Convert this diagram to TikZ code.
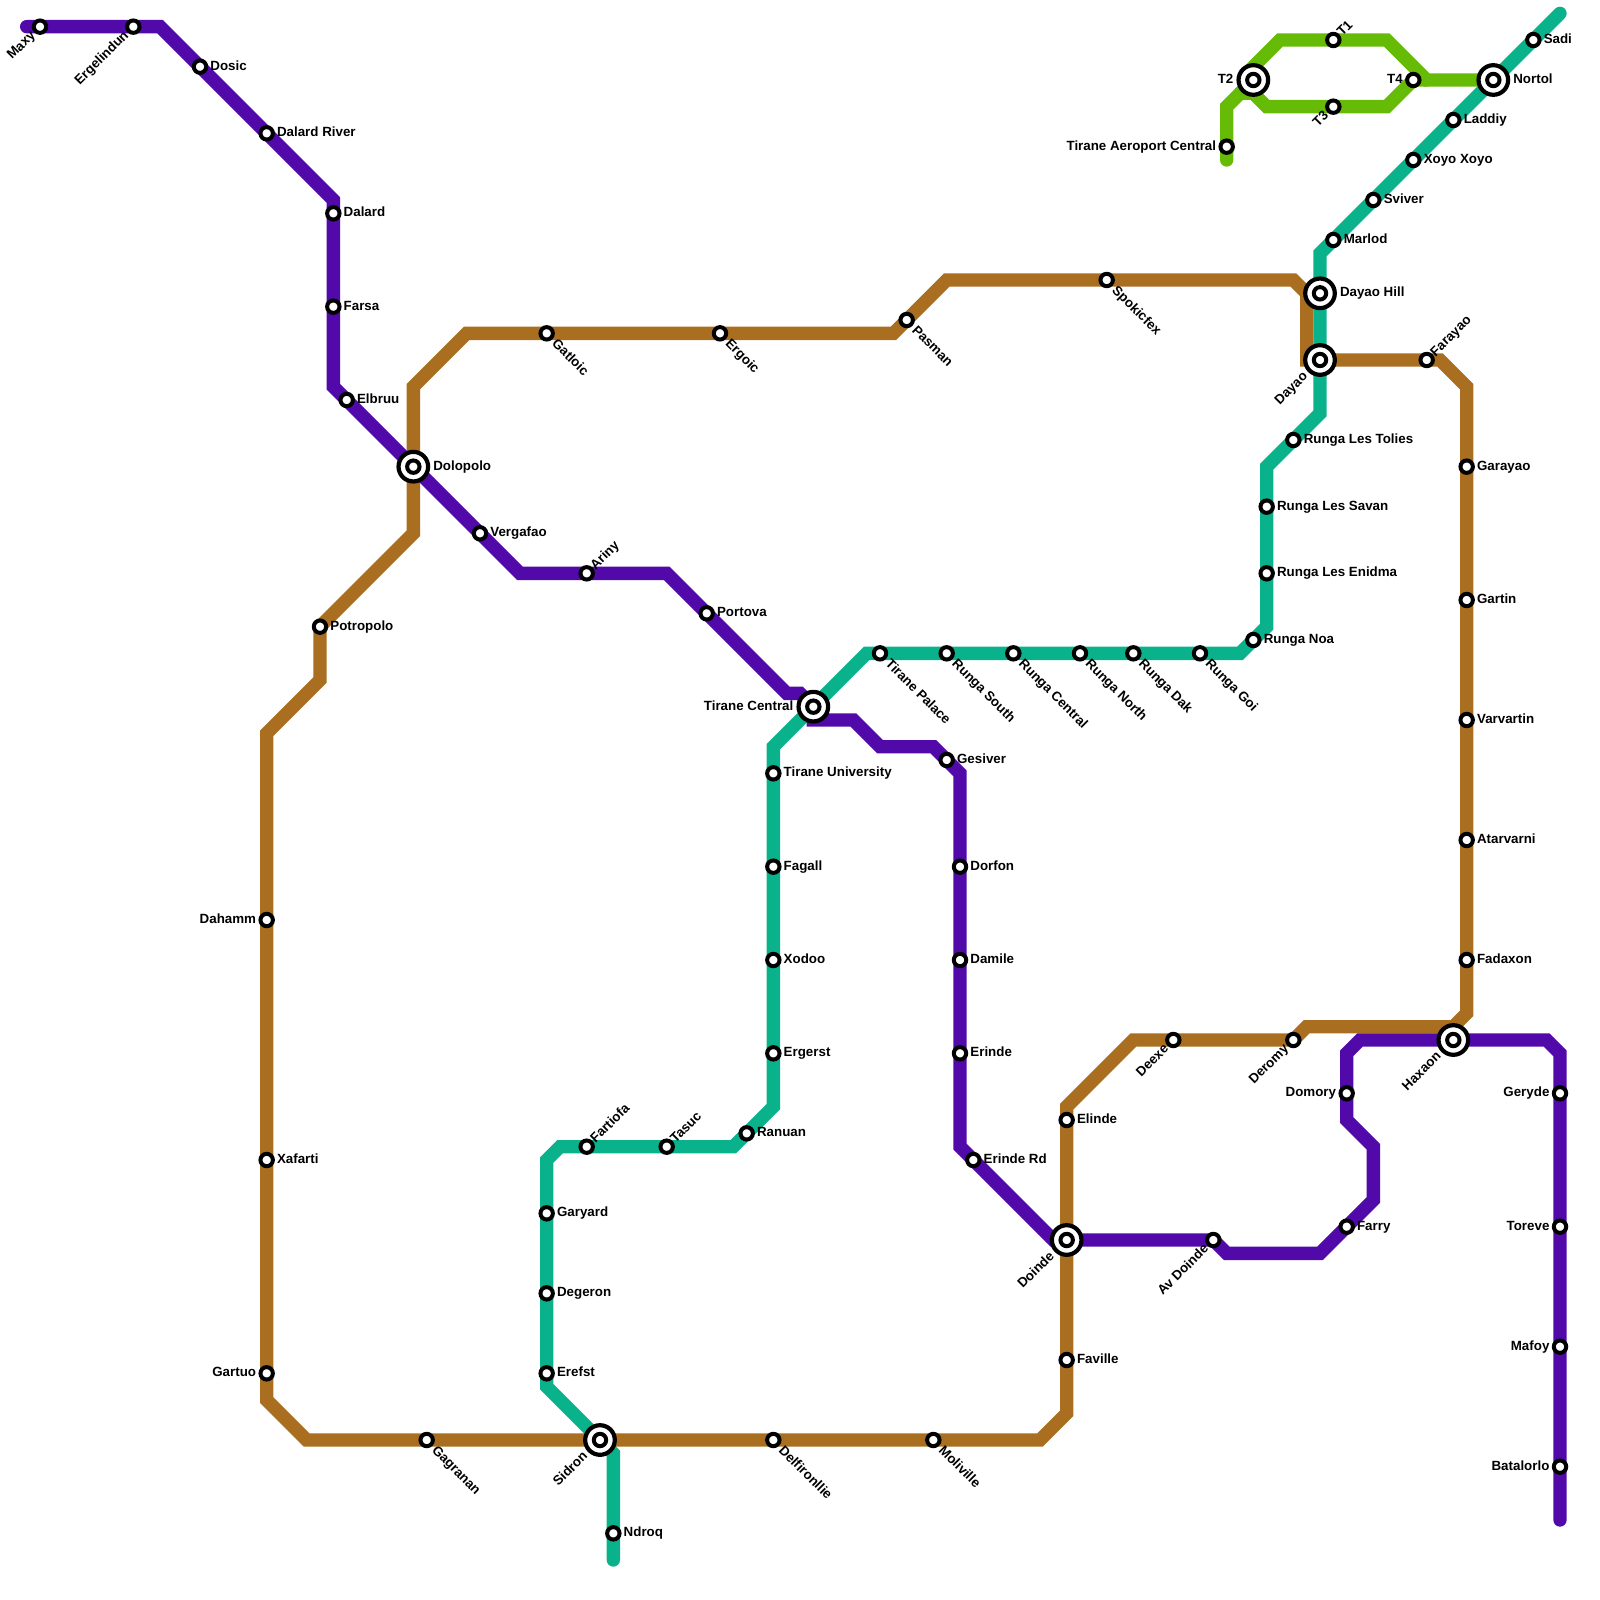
\documentclass[tikz,border=0pt]{standalone}
\usepackage{fontspec}
\setmainfont{Liberation Sans}
\usetikzlibrary{backgrounds}
\definecolor{mpurple}{RGB}{82,9,170}
\definecolor{mbrown}{RGB}{169,110,31}
\definecolor{mteal}{RGB}{10,178,140}
\definecolor{mgreen}{RGB}{102,187,6}
\tikzset{
  metro/.style={line width=6.667pt,line cap=round,line join=miter,miter limit=10},
  stn/.style={circle,draw=black,fill=white,line width=2pt,minimum size=6.2pt,inner sep=0pt,outer sep=0pt},
  hub/.style={circle,draw=black,fill=white,line width=2.1pt,minimum size=14.8pt,inner sep=0pt,outer sep=0pt},
  txt/.style={inner sep=0pt,outer sep=0pt,font=\fontsize{6.67pt}{8pt}\selectfont\bfseries,text=black}
}
% small stations: R right, L left, DR down-right, UR up-right, DL down-left
\newcommand\StR[4]{\node[stn] (#1) at (#2,#3) {};\node[txt,anchor=base west] (#1-t) at ([shift={(5.2pt,-1.8pt)}]#1.center) {#4};}
\newcommand\StL[4]{\node[stn] (#1) at (#2,#3) {};\node[txt,anchor=base east] (#1-t) at ([shift={(-5.3pt,-1.8pt)}]#1.center) {#4};}
\newcommand\StDR[4]{\node[stn] (#1) at (#2,#3) {};\node[txt,anchor=base west,rotate=-45] (#1-t) at ([shift={(2.4pt,-5.6pt)}]#1.center) {#4};}
\newcommand\StUR[4]{\node[stn] (#1) at (#2,#3) {};\node[txt,anchor=base west,rotate=45] (#1-t) at ([shift={(4.5pt,1.5pt)}]#1.center) {#4};}
\newcommand\StDL[4]{\node[stn] (#1) at (#2,#3) {};\node[txt,anchor=base east,rotate=45] (#1-t) at ([shift={(-2.1pt,-4.8pt)}]#1.center) {#4};}
% interchanges
\newcommand\HuR[4]{\node[hub] (#1-o) at (#2,#3) {};\node[stn] (#1) at (#2,#3) {};\node[txt,anchor=base west] (#1-t) at ([shift={(10pt,-1.8pt)}]#1.center) {#4};}
\newcommand\HuL[4]{\node[hub] (#1-o) at (#2,#3) {};\node[stn] (#1) at (#2,#3) {};\node[txt,anchor=base east] (#1-t) at ([shift={(-10pt,-1.8pt)}]#1.center) {#4};}
\newcommand\HuDL[4]{\node[hub] (#1-o) at (#2,#3) {};\node[stn] (#1) at (#2,#3) {};\node[txt,anchor=base east,rotate=45] (#1-t) at ([shift={(-5.9pt,-8.5pt)}]#1.center) {#4};}
\begin{document}
\begin{tikzpicture}[x=6.66667pt,y=-6.66667pt]
\useasboundingbox (0,0) rectangle (120,120);
% purple
\StDL{maxy}{3}{2}{Maxy}
\StDL{ergelindun}{10}{2}{Ergelindun}
\StR{dosic}{15}{5}{Dosic}
\StR{dalardriver}{20}{10}{Dalard River}
\StR{dalard}{25}{16}{Dalard}
\StR{farsa}{25}{23}{Farsa}
\StR{elbruu}{26}{30}{Elbruu}
\HuR{dolopolo}{31}{35}{Dolopolo}
\StR{vergafao}{36}{40}{Vergafao}
\StUR{ariny}{44}{43}{Ariny}
\StR{portova}{53}{46}{Portova}
\HuL{tiranecentral}{61}{53}{Tirane Central}
\StR{gesiver}{71}{57}{Gesiver}
\StR{dorfon}{72}{65}{Dorfon}
\StR{damile}{72}{72}{Damile}
\StR{erinde}{72}{79}{Erinde}
\StR{erinderd}{73}{87}{Erinde Rd}
\HuDL{doinde}{80}{93}{Doinde}
\StDL{avdoinde}{91}{93}{Av Doinde}
\StR{farry}{101}{92}{Farry}
\StL{domory}{101}{82}{Domory}
\HuDL{haxaon}{109}{78}{Haxaon}
\StL{geryde}{117}{82}{Geryde}
\StL{toreve}{117}{92}{Toreve}
\StL{mafoy}{117}{101}{Mafoy}
\StL{batalorlo}{117}{110}{Batalorlo}
% teal
\StR{ndroq}{46}{115}{Ndroq}
\HuDL{sidron}{45}{108}{Sidron}
\StR{erefst}{41}{103}{Erefst}
\StR{degeron}{41}{97}{Degeron}
\StR{garyard}{41}{91}{Garyard}
\StUR{fartiofa}{44}{86}{Fartiofa}
\StUR{tasuc}{50}{86}{Tasuc}
\StR{ranuan}{56}{85}{Ranuan}
\StR{ergerst}{58}{79}{Ergerst}
\StR{xodoo}{58}{72}{Xodoo}
\StR{fagall}{58}{65}{Fagall}
\StR{tiraneuniv}{58}{58}{Tirane University}
\StDR{tiranepalace}{66}{49}{Tirane Palace}
\StDR{rungasouth}{71}{49}{Runga South}
\StDR{rungacentral}{76}{49}{Runga Central}
\StDR{runganorth}{81}{49}{Runga North}
\StDR{rungadak}{85}{49}{Runga Dak}
\StDR{rungagoi}{90}{49}{Runga Goi}
\StR{runganoa}{94}{48}{Runga Noa}
\StR{rungaenidma}{95}{43}{Runga Les Enidma}
\StR{rungasavan}{95}{38}{Runga Les Savan}
\StR{rungatolies}{97}{33}{Runga Les Tolies}
\HuDL{dayao}{99}{27}{Dayao}
\HuR{dayaohill}{99}{22}{Dayao Hill}
\StR{marlod}{100}{18}{Marlod}
\StR{sviver}{103}{15}{Sviver}
\StR{xoyo}{106}{12}{Xoyo Xoyo}
\StR{laddiy}{109}{9}{Laddiy}
\HuR{nortol}{112}{6}{Nortol}
\StR{sadi}{115}{3}{Sadi}
% green
\StL{aeroport}{92}{11}{Tirane Aeroport Central}
\HuL{ttwo}{94}{6}{T2}
\StUR{tone}{100}{3}{T1}
\StDL{tthree}{100}{8}{T3}
\StL{tfour}{106}{6}{T4}
% brown
\StR{potropolo}{24}{47}{Potropolo}
\StDR{gatloic}{41}{25}{Gatloic}
\StDR{ergoic}{54}{25}{Ergoic}
\StDR{pasman}{68}{24}{Pasman}
\StDR{spokicfex}{83}{21}{Spokicfex}
\StUR{farayao}{107}{27}{Farayao}
\StR{garayao}{110}{35}{Garayao}
\StR{gartin}{110}{45}{Gartin}
\StR{varvartin}{110}{54}{Varvartin}
\StR{atarvarni}{110}{63}{Atarvarni}
\StR{fadaxon}{110}{72}{Fadaxon}
\StDL{deromy}{97}{78}{Deromy}
\StDL{deexe}{88}{78}{Deexe}
\StR{elinde}{80}{84}{Elinde}
\StR{faville}{80}{102}{Faville}
\StDR{moliville}{70}{108}{Moliville}
\StDR{delfironllie}{58}{108}{Delfironllie}
\StDR{gagranan}{32}{108}{Gagranan}
\StL{gartuo}{20}{103}{Gartuo}
\StR{xafarti}{20}{87}{Xafarti}
\StL{dahamm}{20}{69}{Dahamm}
\begin{scope}[on background layer]
\draw[metro,mbrown] (potropolo.center) -- (31,40) -- (dolopolo.center) -- (31,29) -- (35,25) -- (gatloic.center) -- (ergoic.center) -- (67,25) -- (pasman.center) -- (71,21) -- (spokicfex.center) -- (97,21) -- (98,22) -- (98,27) -- (dayao.center) -- (farayao.center) -- (108,27) -- (110,29) -- (garayao.center) -- (gartin.center) -- (varvartin.center) -- (atarvarni.center) -- (fadaxon.center) -- (110,76) -- (109,77) -- (98,77) -- (deromy.center) -- (deexe.center) -- (85,78) -- (80,83) -- (elinde.center) -- (doinde.center) -- (faville.center) -- (80,106) -- (78,108) -- (moliville.center) -- (delfironllie.center) -- (sidron.center) -- (gagranan.center) -- (23,108) -- (20,105) -- (gartuo.center) -- (xafarti.center) -- (dahamm.center) -- (20,55) -- (24,51) -- cycle;
\draw[metro,mteal] (46,117) -- (ndroq.center) -- (46,109) -- (sidron.center) -- (41,104) -- (erefst.center) -- (degeron.center) -- (garyard.center) -- (41,87) -- (42,86) -- (fartiofa.center) -- (tasuc.center) -- (55,86) -- (ranuan.center) -- (58,83) -- (ergerst.center) -- (xodoo.center) -- (fagall.center) -- (tiraneuniv.center) -- (58,56) -- (tiranecentral.center) -- (65,49) -- (tiranepalace.center) -- (rungasouth.center) -- (rungacentral.center) -- (runganorth.center) -- (rungadak.center) -- (rungagoi.center) -- (93,49) -- (runganoa.center) -- (95,47) -- (rungaenidma.center) -- (rungasavan.center) -- (95,35) -- (rungatolies.center) -- (99,31) -- (dayao.center) -- (dayaohill.center) -- (99,19) -- (marlod.center) -- (sviver.center) -- (xoyo.center) -- (laddiy.center) -- (nortol.center) -- (sadi.center) -- (117,1);
\draw[metro,mgreen] (92,12) -- (aeroport.center) -- (92,8) -- (93,7) -- (94,7) -- (95,8) -- (tthree.center) -- (104,8) -- (tfour.center) -- (107,6);
\draw[metro,mgreen] (93,7) -- (ttwo.center);
\draw[metro,mgreen] (93.5,5.5) -- (96,3) -- (tone.center) -- (104,3) -- (107,6) -- (nortol.center);
\draw[metro,mpurple] (2,2) -- (maxy.center) -- (ergelindun.center) -- (12,2) -- (dosic.center) -- (dalardriver.center) -- (25,15) -- (dalard.center) -- (farsa.center) -- (25,29) -- (elbruu.center) -- (dolopolo.center) -- (vergafao.center) -- (39,43) -- (ariny.center) -- (50,43) -- (portova.center) -- (59,52) -- (60,52) -- (tiranecentral.center) -- (61,54) -- (64,54) -- (66,56) -- (70,56) -- (gesiver.center) -- (72,58) -- (dorfon.center) -- (damile.center) -- (erinde.center) -- (72,86) -- (erinderd.center) -- (79,93) -- (doinde.center) -- (avdoinde.center) -- (92,94) -- (99,94) -- (farry.center) -- (103,90) -- (103,86) -- (101,84) -- (domory.center) -- (101,79) -- (102,78) -- (haxaon.center) -- (116,78) -- (117,79) -- (geryde.center) -- (toreve.center) -- (mafoy.center) -- (batalorlo.center) -- (117,114);
\end{scope}
\end{tikzpicture}
\end{document}
